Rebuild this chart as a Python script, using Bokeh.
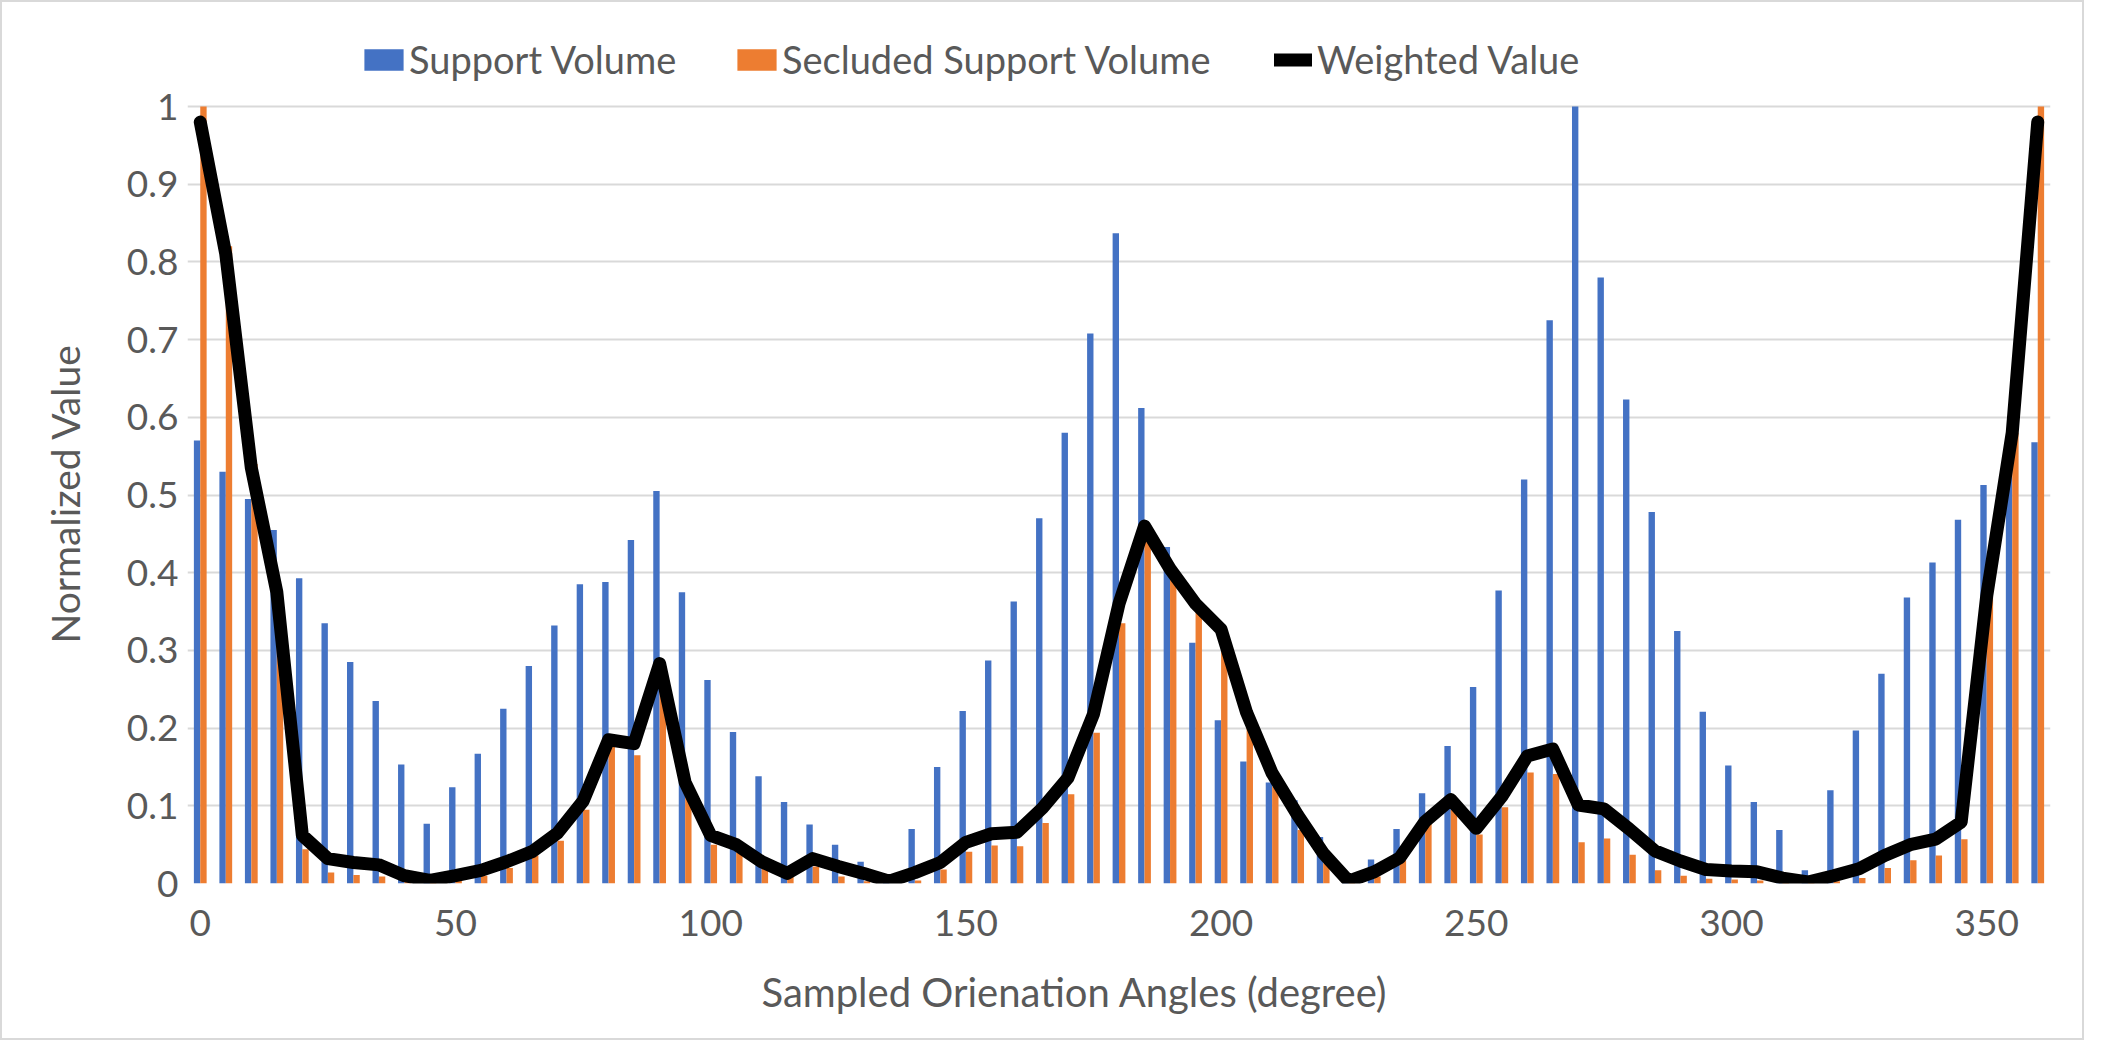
from bokeh.plotting import figure
from bokeh.models import (ColumnDataSource, Range1d, FixedTicker, CustomJSTickFormatter,
                          Legend, LegendItem, Title)
from bokeh.transform import dodge
from bokeh.embed import file_html
from bokeh.resources import INLINE

angles = list(range(0, 361, 5))

support_volume = [
    0.570, 0.530, 0.495, 0.455, 0.393, 0.335, 0.285, 0.235, 0.153, 0.077,   # 0-45
    0.124, 0.167, 0.225, 0.280, 0.332, 0.385, 0.388, 0.442, 0.505, 0.375,   # 50-95
    0.262, 0.195, 0.138, 0.105, 0.076, 0.050, 0.028, 0.003, 0.070, 0.150,   # 100-145
    0.222, 0.287, 0.363, 0.470, 0.580, 0.708, 0.837, 0.612, 0.433, 0.310,   # 150-195
    0.210, 0.157, 0.130, 0.107, 0.060, 0.003, 0.031, 0.070, 0.116, 0.177,   # 200-245
    0.253, 0.377, 0.520, 0.725, 1.000, 0.780, 0.623, 0.478, 0.325, 0.221,   # 250-295
    0.152, 0.105, 0.069, 0.017, 0.120, 0.197, 0.270, 0.368, 0.413, 0.468,   # 300-345
    0.513, 0.545, 0.568,                                                    # 350-360
]

secluded_support_volume = [
    1.000, 0.820, 0.540, 0.365, 0.044, 0.014, 0.011, 0.009, 0.004, 0.001,   # 0-45
    0.004, 0.010, 0.020, 0.036, 0.055, 0.095, 0.180, 0.165, 0.280, 0.120,   # 50-95
    0.050, 0.040, 0.020, 0.010, 0.022, 0.009, 0.003, 0.000, 0.004, 0.018,   # 100-145
    0.041, 0.049, 0.048, 0.078, 0.115, 0.194, 0.335, 0.450, 0.400, 0.350,   # 150-195
    0.310, 0.212, 0.125, 0.069, 0.026, 0.001, 0.009, 0.030, 0.078, 0.095,   # 200-245
    0.063, 0.098, 0.143, 0.141, 0.053, 0.058, 0.037, 0.017, 0.010, 0.006,   # 250-295
    0.005, 0.004, 0.002, 0.001, 0.003, 0.007, 0.020, 0.030, 0.036, 0.057,   # 300-345
    0.370, 0.580, 1.000,                                                    # 350-360
]

weighted_value = [
    0.980, 0.810, 0.535, 0.375, 0.062, 0.032, 0.027, 0.024, 0.010, 0.004,   # 0-45
    0.010, 0.017, 0.028, 0.041, 0.065, 0.106, 0.185, 0.180, 0.283, 0.130,   # 50-95
    0.062, 0.050, 0.028, 0.013, 0.032, 0.022, 0.013, 0.003, 0.014, 0.027,   # 100-145
    0.053, 0.064, 0.066, 0.097, 0.136, 0.218, 0.360, 0.460, 0.405, 0.360,   # 150-195
    0.327, 0.220, 0.142, 0.088, 0.039, 0.003, 0.015, 0.033, 0.080, 0.108,   # 200-245
    0.071, 0.112, 0.164, 0.173, 0.101, 0.096, 0.070, 0.042, 0.029, 0.018,   # 250-295
    0.016, 0.015, 0.007, 0.002, 0.010, 0.019, 0.036, 0.050, 0.057, 0.079,   # 300-345
    0.370, 0.580, 0.980,                                                    # 350-360
]

x_tick_values = [0, 50, 100, 150, 200, 250, 300, 350]
y_tick_values = [round(i * 0.1, 1) for i in range(11)]

series_names = ["Support Volume", "Secluded Support Volume", "Weighted Value"]
x_title = "Sampled Orienation Angles (degree)"
y_title = "Normalized Value"

FONT = "Lato"
TXT = "#595959"
BLUE = "#4472C4"
ORANGE = "#ED7D31"
GRID = "#D9D9D9"

source = ColumnDataSource(data=dict(angle=angles, sv=support_volume,
                                    ssv=secluded_support_volume, wv=weighted_value))

# layout (pixels)
W, H = 2084, 1040
LEFT, RIGHT, TOP, BOTTOM = 185, 36, 14, 159
frame_h = H - TOP - BOTTOM
unit_px = 777              # pixels between value 0 and value 1
y_end = frame_h / unit_px  # frame extends above 1 to host the legend row

p = figure(width=W, height=H, output_backend="svg", toolbar_location=None,
           x_range=Range1d(-2.5, 362.5), y_range=Range1d(0, y_end),
           min_border_left=LEFT, min_border_right=RIGHT, min_border_top=TOP,
           min_border_bottom=BOTTOM)
p.styles = {"border": "2px solid #D9D9D9"}
p.outline_line_color = None
p.background_fill_color = "white"
p.border_fill_color = "white"

bw = 1.25
r_sv = p.vbar(x=dodge("angle", -bw / 2, range=p.x_range), top="sv", width=bw,
              bottom=0, source=source, fill_color=BLUE, line_color=None)
r_ssv = p.vbar(x=dodge("angle", bw / 2, range=p.x_range), top="ssv", width=bw,
               bottom=0, source=source, fill_color=ORANGE, line_color=None)
r_wv = p.line(x="angle", y="wv", source=source, line_color="black", line_width=13,
              line_join="round", line_cap="round")

# axes
p.xaxis.ticker = FixedTicker(ticks=x_tick_values)
p.yaxis.ticker = FixedTicker(ticks=y_tick_values)
p.yaxis.formatter = CustomJSTickFormatter(
    code="var s = tick.toFixed(1); return s.replace(/\\.0$/, '');")
for ax in (p.xaxis, p.yaxis):
    ax.axis_line_color = None
    ax.major_tick_line_color = None
    ax.minor_tick_line_color = None
    ax.major_label_text_font = FONT
    ax.major_label_text_font_size = "37px"
    ax.major_label_text_color = TXT

p.xaxis.major_label_standoff = 20
p.yaxis.major_label_standoff = 3

# axis titles (placed as titles so that they centre on the 0..1 value area)
xt = Title(text=x_title, align="left", offset=574, standoff=54,
           text_font=FONT, text_font_size="40px", text_font_style="normal",
           text_color=TXT)
p.add_layout(xt, "below")
yt = Title(text=y_title, align="left", offset=240, standoff=72,
           text_font=FONT, text_font_size="39px", text_font_style="normal",
           text_color=TXT)
p.add_layout(yt, "left")

p.xgrid.grid_line_color = None
p.ygrid.grid_line_color = GRID
p.ygrid.grid_line_width = 2

# legends (one per entry, placed like the reference)
legend_x = [172, 545, 1087]
legend_renderers = [r_sv, r_ssv, r_wv]
glyph_w = [49, 49, 38]
glyph_h = [27, 27, 23]
standoffs = [1, 1, 5]
for name, rend, lx, gw, gh, so in zip(series_names, legend_renderers, legend_x,
                                      glyph_w, glyph_h, standoffs):
    lg = Legend(items=[LegendItem(label=name, renderers=[rend])],
                location=(lx, 801), orientation="horizontal",
                glyph_width=gw, glyph_height=gh, label_height=gh,
                label_standoff=so, padding=0, margin=0, spacing=0,
                border_line_color=None, background_fill_alpha=0,
                label_text_font=FONT, label_text_font_size="38px",
                label_text_color=TXT)
    p.add_layout(lg, "center")

open("out.html", "w").write(file_html(p, INLINE))
